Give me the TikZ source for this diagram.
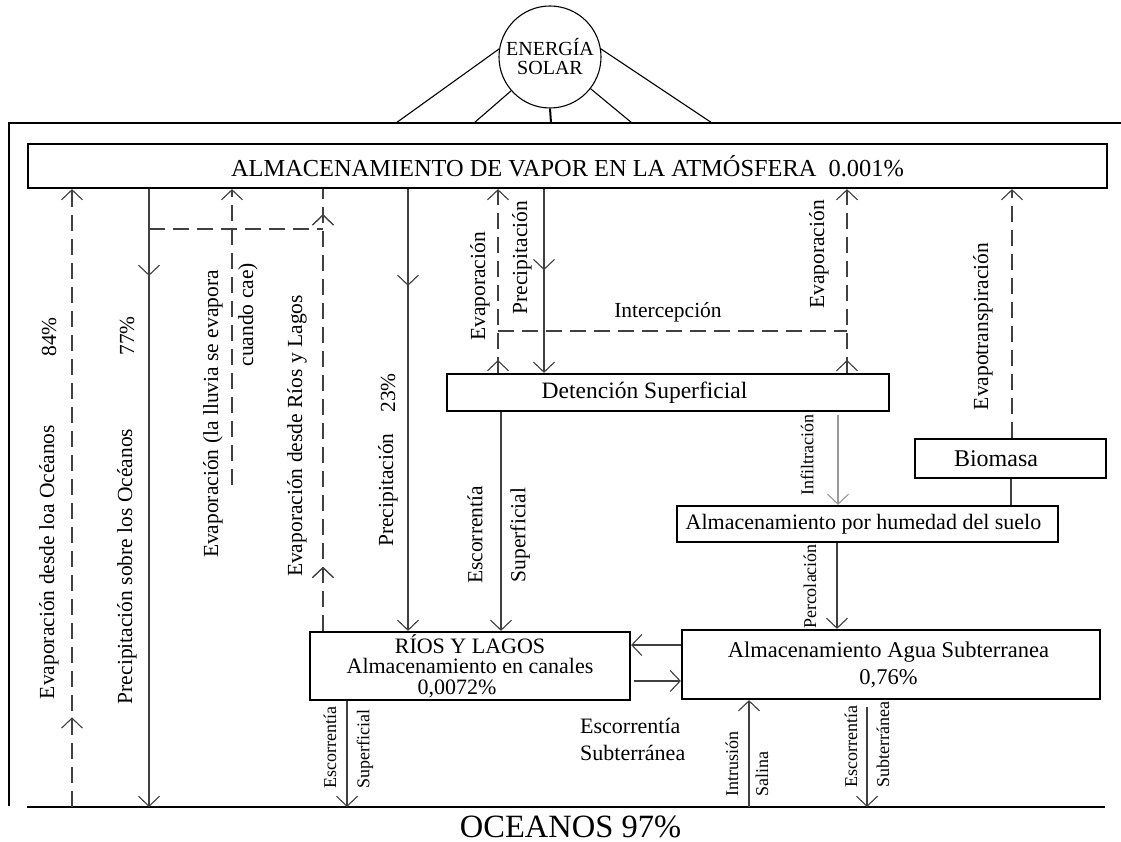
\documentclass[tikz,border=0pt]{standalone}
\usepackage{fontspec}
\setmainfont{Liberation Serif}
\usetikzlibrary{arrows.meta,decorations.markings}
\tikzset{
  ln/.style={line width=1.1pt, draw=black!75},
  dsh/.style={ln, dash pattern=on 16pt off 8pt},
  tipend/.style={-{Straight Barb[length=10pt,width=21pt,line width=1.1pt]}},
  midtip/.style={postaction={decorate},decoration={markings,
      mark=at position #1 with {\arrow{Straight Barb[length=10pt,width=21pt,line width=1.1pt]}}}},
  bx/.style={draw, line width=2.2pt, inner sep=0pt, align=center, font=\fontsize{22}{22}\selectfont},
  lbl/.style={font=\fontsize{21.5}{22}\selectfont, inner sep=0pt},
  slbl/.style={font=\fontsize{18}{19}\selectfont, inner sep=0pt},
  rot/.style={rotate=90},
}
\begin{document}
\begin{tikzpicture}[x=1pt,y=-1pt]
\useasboundingbox (0,0) rectangle (1121,842);
\fill[white] (0,0) rectangle (1121,842);

% sun
\node[draw, circle, line width=1.1pt, minimum size=102pt, inner sep=0pt, align=center,
  font=\fontsize{20}{19}\selectfont] (sun) at (550,57) {ENERGÍA\\SOLAR};
% frame
\coordinate (ftl) at (9,123);
\coordinate (fbl) at (9,806);
\coordinate (ftr) at (1121,123);
\draw[line width=2pt] (fbl) -- (ftl) -- (ftr);
\coordinate (s1) at (396,123);
\coordinate (s2) at (474,123);
\coordinate (s3) at (551,123);
\coordinate (s4) at (632,123);
\coordinate (s5) at (712,123);
\draw[line width=1.1pt] (sun.171) -- (s1);
\draw[line width=1.1pt] (sun.221) -- (s2);
\draw[line width=2pt] (sun.south) -- (s3);
\draw[line width=1.1pt] (sun.322) -- (s4);
\draw[line width=1.1pt] (sun.9) -- (s5);

% ocean
\coordinate (ol) at (27,807);
\coordinate (or) at (1105,807);
\draw[line width=2pt] (ol) -- (or);
\node[inner sep=0pt, anchor=base, font=\fontsize{32.5}{34}\selectfont] (oc) at (570.5,837) {OCEANOS 97\%};

% boxes
\node[bx, minimum width=1079pt, minimum height=44pt, font=\fontsize{24.4}{25}\selectfont] (atm) at (567.5,166)
  {ALMACENAMIENTO DE VAPOR EN LA ATMÓSFERA \ 0.001\%};
\node[bx, minimum width=442pt, minimum height=37pt, font=\fontsize{23.5}{24}\selectfont] (det) at (668,392.5)
  {Detención Superficial\hspace*{47pt}};
\node[bx, minimum width=191pt, minimum height=39pt, font=\fontsize{24}{24}\selectfont] (bio) at (1010.5,458.5)
  {Biomasa\hspace*{29pt}};
\node[bx, minimum width=381pt, minimum height=36pt] (hum) at (867.5,524)
  {Almacenamiento por humedad del suelo\hspace*{8pt}};
\node[bx, minimum width=320pt, minimum height=68pt, font=\fontsize{22}{20.5}\selectfont] (rios) at (470,666)
  {RÍOS Y LAGOS\\Almacenamiento en canales\hspace*{20pt}\\0,0072\%\hspace*{26pt}};
\node[bx, minimum width=418pt, minimum height=69pt, font=\fontsize{22.5}{27}\selectfont] (sub) at (891,664.5)
  {Almacenamiento Agua Subterranea\hspace*{5pt}\\0,76\%\hspace*{5pt}};

% ocean coordinates
\coordinate (o72) at (72,807);
\coordinate (o149) at (149,807);
\coordinate (o347) at (347,807);
\coordinate (o749) at (749,807);
\coordinate (o867) at (867,807);

% A: evaporation from oceans
\draw[dsh, tipend, midtip=0.145] (o72) -- (atm.south -| o72);
% B: precipitation over oceans
\draw[ln, tipend, midtip=0.1405] (atm.south -| o149) -- (o149);
% C: horizontal dashed
\coordinate (c1) at (149,229);
\coordinate (c2) at (323,229);
\draw[dsh] (c1) -- (c2);
% D: evaporation when falling
\coordinate (d1) at (232,485);
\draw[dsh, tipend] (d1) -- (atm.south -| d1);
% E: evaporation from rivers
\coordinate (e1) at (323,0);
\draw[dsh, midtip=0.145, midtip=0.943] (rios.north -| e1) -- (atm.south -| e1);
% F: precipitation 23%
\coordinate (f1) at (408,0);
\draw[ln, tipend, midtip=0.219] (atm.south -| f1) -- (rios.north -| f1);
% G: evaporation from detention
\coordinate (g1) at (498,0);
\draw[dsh, tipend, midtip=0.07] (det.north -| g1) -- (atm.south -| g1);
% H: precipitation to detention
\coordinate (h1) at (544,0);
\draw[ln, tipend, midtip=0.441] (atm.south -| h1) -- (det.north -| h1);
% I: interception
\coordinate (i1) at (498,331);
\coordinate (i2) at (847,331);
\draw[dsh] (i1) -- (i2);
% J: evaporation right
\coordinate (j1) at (847,0);
\draw[dsh, tipend, midtip=0.07] (det.north -| j1) -- (atm.south -| j1);
% K: evapotranspiration
\coordinate (k1) at (1012,0);
\draw[dsh, tipend] (bio.north -| k1) -- (atm.south -| k1);
% biomasa - humedad
\coordinate (b1) at (1011,0);
\draw[ln] (bio.south -| b1) -- (hum.north -| b1);
% surface runoff to rivers
\coordinate (r1) at (501,0);
\draw[ln, tipend] (det.south -| r1) -- (rios.north -| r1);
% infiltration
\coordinate (n1) at (838,415);
\draw[line width=1.1pt, draw=black!40, tipend] (n1) -- (hum.north -| n1);
% percolation
\coordinate (p1) at (837,0);
\draw[ln, tipend] (hum.south -| p1) -- (sub.north -| p1);
% rivers <-> groundwater
\coordinate (q1) at (0,645);
\coordinate (q2) at (0,681);
\draw[ln, tipend] (sub.west |- q1) -- (rios.east |- q1);
\draw[ln, tipend] ([xshift=3pt]rios.east |- q2) -- (sub.west |- q2);
% surface runoff to ocean
\draw[ln, tipend] (rios.south -| o347) -- (o347);
% saline intrusion
\draw[ln, tipend] (o749) -- (sub.south -| o749);
% groundwater runoff
\coordinate (u1) at (867,707);
\draw[ln, tipend] (u1) -- (o867);

% labels
\node[lbl, rot] (la1) at (49,562) {Evaporación desde loa Océanos};
\node[lbl, rot] (la2) at (49,337) {84\%};
\node[lbl, rot] (lb1) at (127,566.5) {Precipitación sobre los Océanos};
\node[lbl, rot] (lb2) at (127,336) {77\%};
\node[lbl, rot, anchor=east] (ld1) at (213,270) {Evaporación (la lluvia se evapora};
\node[lbl, rot, anchor=east] (ld2) at (248,263) {cuando cae)};
\node[lbl, rot] (le1) at (297,436) {Evaporación desde Ríos y Lagos};
\node[lbl, rot] (lf1) at (388,490) {Precipitación};
\node[lbl, rot] (lf2) at (388,393) {23\%};
\node[lbl, rot] (lg1) at (480,286.5) {Evaporación};
\node[lbl, rot] (lh1) at (522,257.5) {Precipitación};
\node[lbl] (li1) at (668,312) {Intercepción};
\node[lbl, rot] (lj1) at (819,254.5) {Evaporación};
\node[lbl, rot] (lk1) at (983,326.5) {Evapotranspiración};
\node[lbl, rot] (lr1) at (475,535) {Escorrentía};
\node[lbl, rot] (lr2) at (520,535) {Superficial};
\node[slbl, rot] (ln1) at (807,455) {Infiltración};
\node[slbl, rot] (lp1) at (810,586.5) {Percolación};
\node[slbl, rot] (ls1) at (330,747.5) {Escorrentía};
\node[slbl, rot] (ls2) at (365,749) {Superficial};
\node[lbl, font=\fontsize{22}{22}\selectfont, anchor=base west] (lt1) at (580,733) {Escorrentía};
\node[lbl, font=\fontsize{22}{22}\selectfont, anchor=base west] (lt2) at (580,760) {Subterránea};
\node[slbl, rot, anchor=west] (lu1) at (732,797) {Intrusión};
\node[slbl, rot, anchor=west] (lu2) at (762,797) {Salina};
\node[slbl, rot, anchor=west] (lv1) at (851,788) {Escorrentía};
\node[slbl, rot, anchor=west] (lv2) at (883,788) {Subterránea};
\end{tikzpicture}
\end{document}
